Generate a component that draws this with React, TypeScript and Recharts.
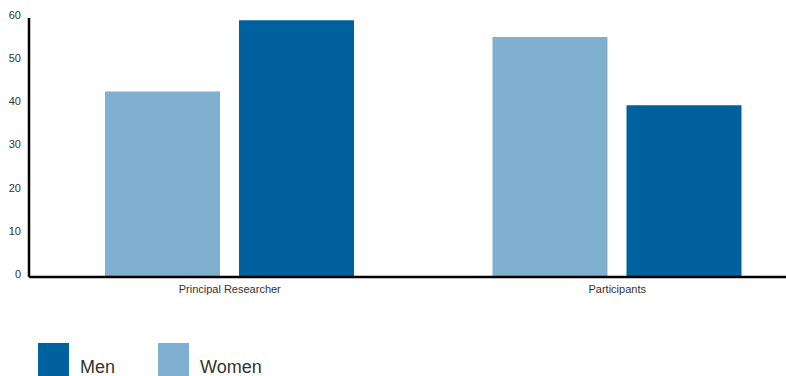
import { BarChart, Bar, XAxis, YAxis } from "recharts";

const categories = ["Principal Researcher", "Participants"];
const womenValues = [43, 55.6];
const menValues = [59.5, 39.8];
const yTicks = [0, 10, 20, 30, 40, 50, 60];

const MEN_COLOR = "#00619F";
const WOMEN_COLOR = "#80B0D0";
const FONT = "'Liberation Sans', Arial, Helvetica, sans-serif";

const data = categories.map((name, i) => ({
  name,
  women: womenValues[i],
  men: menValues[i],
}));

const legendItems = [
  { label: "Men", color: MEN_COLOR },
  { label: "Women", color: WOMEN_COLOR },
];

export default function App() {
  return (
    <div
      style={{
        position: "absolute",
        left: 0,
        top: 0,
        width: 786,
        height: 376,
        overflow: "hidden",
        background: "#fff",
        fontFamily: FONT,
      }}
    >
      <BarChart
        width={811}
        height={300}
        data={data}
        margin={{ top: 18, right: 0, bottom: 0, left: 0 }}
        barSize={115}
        barGap={19}
      >
        <XAxis
          dataKey="name"
          height={23}
          padding={{ left: 7, right: 0 }}
          axisLine={{ stroke: "#000", strokeWidth: 2.5 }}
          tickLine={false}
          tick={{ fontSize: 11, fill: "#333", fontFamily: FONT }}
        />
        <YAxis
          width={29}
          domain={[0, 60]}
          ticks={yTicks}
          axisLine={{ stroke: "#000", strokeWidth: 2.5 }}
          tickLine={false}
          tick={{ fontSize: 11, fill: "#333", fontFamily: FONT, dy: -3 }}
        />
        <Bar dataKey="women" fill={WOMEN_COLOR} isAnimationActive={false} />
        <Bar dataKey="men" fill={MEN_COLOR} isAnimationActive={false} />
      </BarChart>

      {legendItems.map((item, i) => (
        <div
          key={item.label}
          style={{ position: "absolute", left: 38 + i * 120, top: 343, display: "flex" }}
        >
          <div style={{ width: 31, height: 34, background: item.color }} />
          <span
            style={{
              marginLeft: 11,
              marginTop: 13,
              fontSize: 18,
              color: "#333",
              lineHeight: "22px",
            }}
          >
            {item.label}
          </span>
        </div>
      ))}
    </div>
  );
}
